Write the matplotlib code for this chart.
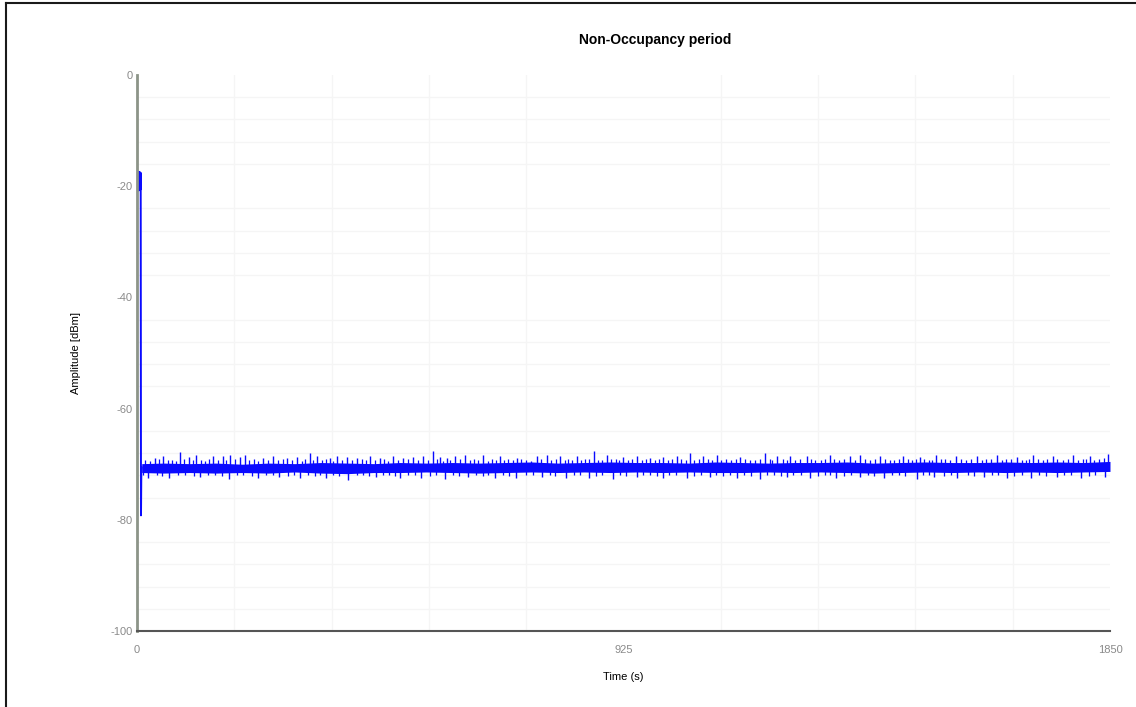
import matplotlib.pyplot as plt
from matplotlib.lines import Line2D

plt.rcParams['font.family'] = ['Liberation Sans', 'DejaVu Sans']
plt.rcParams['axes.unicode_minus'] = False

# start of the trace: the short burst near t=0 and the dip
start_t = [1.0, 1.6, 2.2, 2.8, 3.4, 4.0, 4.6, 5.2, 5.8, 6.4, 7.0, 7.6, 8.2, 9.0]
start_y = [-17.4, -20.7, -17.5, -20.8, -17.4, -20.6, -17.6, -20.7, -17.5, -20.6, -17.6, -79.2, -71.5, -70.6]

# noise band (dense core of the trace)
band_t = [9, 50, 100, 150, 200, 250, 300, 350, 400, 450, 500, 550, 600, 650, 700,
          750, 800, 850, 900, 950, 1000, 1050, 1100, 1150, 1200, 1250, 1300, 1350,
          1400, 1450, 1500, 1550, 1600, 1650, 1700, 1750, 1800, 1850]
band_hi = [-69.9, -69.8, -69.9, -69.8, -70.0, -69.8, -69.9, -69.7, -69.8, -69.9, -69.7, -69.8,
           -69.7, -69.8, -69.7, -69.6, -69.8, -69.7, -69.6, -69.7, -69.7, -69.8, -69.6, -69.7,
           -69.8, -69.7, -69.7, -69.6, -69.8, -69.7, -69.6, -69.7, -69.7, -69.6, -69.7, -69.6,
           -69.7, -69.5]
band_lo = [-71.5, -71.6, -71.5, -71.6, -71.5, -71.6, -71.4, -71.6, -71.7, -71.5, -71.5, -71.4,
           -71.5, -71.6, -71.5, -71.4, -71.5, -71.4, -71.5, -71.4, -71.5, -71.4, -71.5, -71.5,
           -71.4, -71.5, -71.4, -71.5, -71.6, -71.5, -71.4, -71.5, -71.4, -71.5, -71.4, -71.5,
           -71.4, -71.3]

# tall peaks sticking out of the band
up_t = [34, 50, 82, 98, 113, 145, 164, 177, 196, 205, 240, 259, 285, 304, 329, 342, 367,
        380, 399, 418, 443, 462, 487, 506, 525, 544, 563, 576, 589, 605, 624, 658, 690,
        722, 760, 779, 804, 836, 868, 893, 925, 950, 975, 1001, 1026, 1051, 1077, 1102,
        1147, 1194, 1216, 1242, 1273, 1317, 1356, 1375, 1413, 1457, 1489, 1520, 1558,
        1597, 1635, 1673, 1704, 1742, 1780, 1812, 1847]
up_y = [-68.8, -68.6, -67.8, -68.7, -68.4, -68.6, -68.5, -68.3, -68.7, -68.4, -68.8, -68.6,
        -68.9, -68.7, -67.9, -68.5, -68.8, -68.6, -68.7, -68.9, -68.5, -68.8, -68.6, -68.9,
        -68.7, -68.6, -67.6, -68.7, -68.8, -68.5, -68.3, -68.4, -68.6, -68.8, -68.5, -68.4,
        -68.6, -68.5, -67.6, -68.4, -68.7, -68.6, -68.8, -68.7, -68.6, -68.0, -68.5, -68.4,
        -68.7, -68.0, -68.6, -68.5, -68.6, -68.3, -68.6, -68.4, -68.6, -68.5, -68.7, -68.4,
        -68.5, -68.6, -68.4, -68.7, -68.3, -68.5, -68.4, -68.6, -68.1]

# small ripples on the upper edge
ripple_up_t = [15, 24, 42, 58, 66, 74, 90, 106, 121, 129, 137, 154, 170, 186, 213, 222, 231,
               249, 268, 277, 294, 313, 320, 335, 351, 359, 373, 389, 408, 427, 435, 452,
               470, 478, 496, 515, 534, 553, 570, 582, 596, 614, 633, 641, 649, 667, 675,
               682, 698, 706, 714, 731, 740, 750, 769, 788, 796, 813, 820, 828, 845, 852,
               860, 877, 885, 902, 910, 917, 934, 942, 960, 967, 985, 992, 1010, 1018, 1035,
               1043, 1060, 1068, 1086, 1094, 1111, 1120, 1130, 1138, 1156, 1165, 1175, 1185,
               1203, 1208, 1229, 1235, 1251, 1260, 1282, 1290, 1300, 1308, 1326, 1335, 1345,
               1365, 1384, 1393, 1403, 1422, 1431, 1440, 1448, 1466, 1474, 1481, 1497, 1505,
               1512, 1529, 1537, 1546, 1567, 1576, 1586, 1606, 1615, 1624, 1644, 1653, 1662,
               1682, 1690, 1696, 1713, 1722, 1731, 1750, 1760, 1770, 1789, 1798, 1805, 1820,
               1830, 1839]
ripple_up_y = [-69.2, -69.4, -69.1, -69.3, -69.2, -69.4, -69.1, -69.3, -69.2, -69.4, -69.1,
               -69.3, -69.2, -69.0, -69.3, -69.1, -69.4, -69.2, -69.3, -69.1, -69.2, -69.4,
               -69.1, -69.2, -69.3, -69.1, -69.4, -69.2, -69.3, -69.1, -69.2, -69.3, -69.1,
               -69.4, -69.2, -69.1, -69.3, -69.2, -69.1, -69.4, -69.2, -69.0, -69.3, -69.1,
               -69.2, -69.4, -69.1, -69.3, -69.2, -69.0, -69.3, -69.1, -69.2, -69.4, -69.1,
               -69.3, -69.0, -69.2, -69.1, -69.3, -69.2, -69.0, -69.1, -69.3, -69.2, -69.1,
               -69.0, -69.2, -69.3, -69.1, -69.2, -69.0, -69.3, -69.1, -69.2, -69.0, -69.1,
               -69.3, -69.2, -69.1, -69.0, -69.2, -69.3, -69.1, -69.2, -69.0, -69.1, -69.3,
               -69.2, -69.1, -69.0, -69.2, -69.1, -69.3, -69.2, -69.0, -69.1, -69.2, -69.3,
               -69.0, -69.1, -69.2, -69.0, -69.3, -69.1, -69.2, -69.0, -69.1, -69.2, -69.3,
               -69.0, -69.1, -69.2, -69.0, -69.1, -69.3, -69.2, -69.0, -69.1, -69.2, -69.0,
               -69.3, -69.1, -69.2, -69.0, -69.1, -69.2, -69.0, -69.1, -69.3, -69.2, -69.0,
               -69.1, -69.2, -69.0, -69.1, -69.3, -69.0, -69.2, -69.1, -69.0, -69.2, -69.1,
               -68.9]

# dips below the band
dn_t = [20, 60, 120, 175, 230, 270, 310, 360, 401, 455, 500, 540, 585, 630, 680, 720, 770,
        815, 860, 905, 950, 1000, 1045, 1090, 1140, 1185, 1235, 1280, 1330, 1375, 1420,
        1483, 1515, 1560, 1610, 1655, 1700, 1750, 1795, 1840]
dn_y = [-72.4, -72.5, -72.3, -72.6, -72.4, -72.3, -72.5, -72.4, -72.8, -72.3, -72.5, -72.4,
        -72.6, -72.3, -72.5, -72.4, -72.3, -72.5, -72.4, -72.6, -72.3, -72.4, -72.5, -72.3,
        -72.4, -72.6, -72.3, -72.4, -72.5, -72.3, -72.4, -72.6, -72.3, -72.4, -72.3, -72.5,
        -72.4, -72.3, -72.4, -72.3]

# small ripples on the lower edge
ripple_dn_t = [12, 38, 48, 78, 92, 108, 135, 148, 162, 190, 202, 218, 245, 258, 288, 298,
               325, 338, 348, 372, 385, 418, 430, 442, 468, 480, 490, 515, 528, 558, 568,
               600, 612, 645, 658, 668, 695, 708, 740, 752, 785, 795, 830, 842, 872, 885,
               918, 930, 962, 975, 988, 1012, 1025, 1060, 1072, 1100, 1115, 1128, 1155,
               1168, 1198, 1212, 1225, 1248, 1262, 1295, 1308, 1318, 1345, 1358, 1390,
               1402, 1435, 1448, 1460, 1495, 1505, 1535, 1548, 1580, 1592, 1625, 1638,
               1668, 1682, 1715, 1728, 1762, 1775, 1810, 1822]
ripple_dn_y = [-72.0, -71.9, -72.1, -71.9, -72.0, -72.1, -71.9, -72.0, -72.1, -71.9, -72.0,
               -72.2, -71.9, -72.0, -72.1, -71.9, -72.0, -72.1, -71.9, -72.0, -72.2, -71.9,
               -72.0, -72.1, -71.9, -72.0, -72.1, -71.9, -72.0, -72.1, -71.9, -72.0, -72.1,
               -71.9, -72.2, -72.0, -71.9, -72.1, -72.0, -71.9, -72.0, -72.1, -71.9, -72.0,
               -72.1, -71.9, -72.0, -72.1, -71.9, -72.0, -72.1, -71.9, -72.0, -72.1, -71.9,
               -72.0, -72.1, -71.9, -72.0, -72.1, -71.9, -72.0, -72.1, -71.9, -72.0, -72.1,
               -71.9, -72.0, -72.1, -71.9, -72.0, -72.1, -71.9, -72.0, -72.1, -71.9, -72.0,
               -72.1, -71.9, -72.0, -72.1, -71.9, -72.0, -72.1, -71.9, -72.0, -72.1, -71.9,
               -72.0, -72.1, -71.9]

x_ticks = [0, 925, 1850]
y_ticks = [0, -20, -40, -60, -80, -100]

fig = plt.figure(figsize=(11.36, 7.07), dpi=100)
ax = fig.add_axes([0.1206, 0.1075, 0.8565, 0.7864])

trace = '#0a0aff'
ax.plot(start_t, start_y, color=trace, lw=1.4)
ax.fill_between(band_t, band_lo, band_hi, color=trace, lw=0)
ax.vlines(up_t, -70.5, up_y, color=trace, lw=1.0)
ax.vlines(ripple_up_t, -70.5, ripple_up_y, color=trace, lw=0.9)
ax.vlines(dn_t, -71.0, dn_y, color=trace, lw=1.0)
ax.vlines(ripple_dn_t, -71.0, ripple_dn_y, color=trace, lw=0.9)

ax.set_xlim(0, 1850)
ax.set_ylim(-100, 0)
ax.set_xticks(x_ticks)
ax.set_yticks(y_ticks)
ax.set_xticks(range(0, 1851, 185), minor=True)
ax.set_yticks(range(-100, 1, 4), minor=True)
ax.grid(which='minor', color='#f5f5f5', lw=1)
ax.set_axisbelow(True)
ax.tick_params(which='both', length=0, colors='#8a8a8a', labelsize=8)
ax.tick_params(axis='x', pad=10)
ax.tick_params(axis='y', pad=3)

for s in ['top', 'right']:
    ax.spines[s].set_visible(False)
ax.spines['left'].set_color('#8c9488')
ax.spines['left'].set_linewidth(2)
ax.spines['bottom'].set_color('#555555')
ax.spines['bottom'].set_linewidth(1.5)

ax.set_title('Non-Occupancy period', fontsize=10, fontweight='bold', x=0.533, pad=22)
ax.set_xlabel('Time (s)', fontsize=8, labelpad=12)
ax.set_ylabel('Amplitude [dBm]', fontsize=8, labelpad=21)

# outer frame (left and top edge visible in the picture)
fig.add_artist(Line2D([0.0057, 0.0057], [0, 0.9955], transform=fig.transFigure, color='#1a1a1a', lw=1.5))
fig.add_artist(Line2D([0.0057, 1.0], [0.9955, 0.9955], transform=fig.transFigure, color='#1a1a1a', lw=1.5))

fig.savefig('out.png', dpi=100)
plt.close()
